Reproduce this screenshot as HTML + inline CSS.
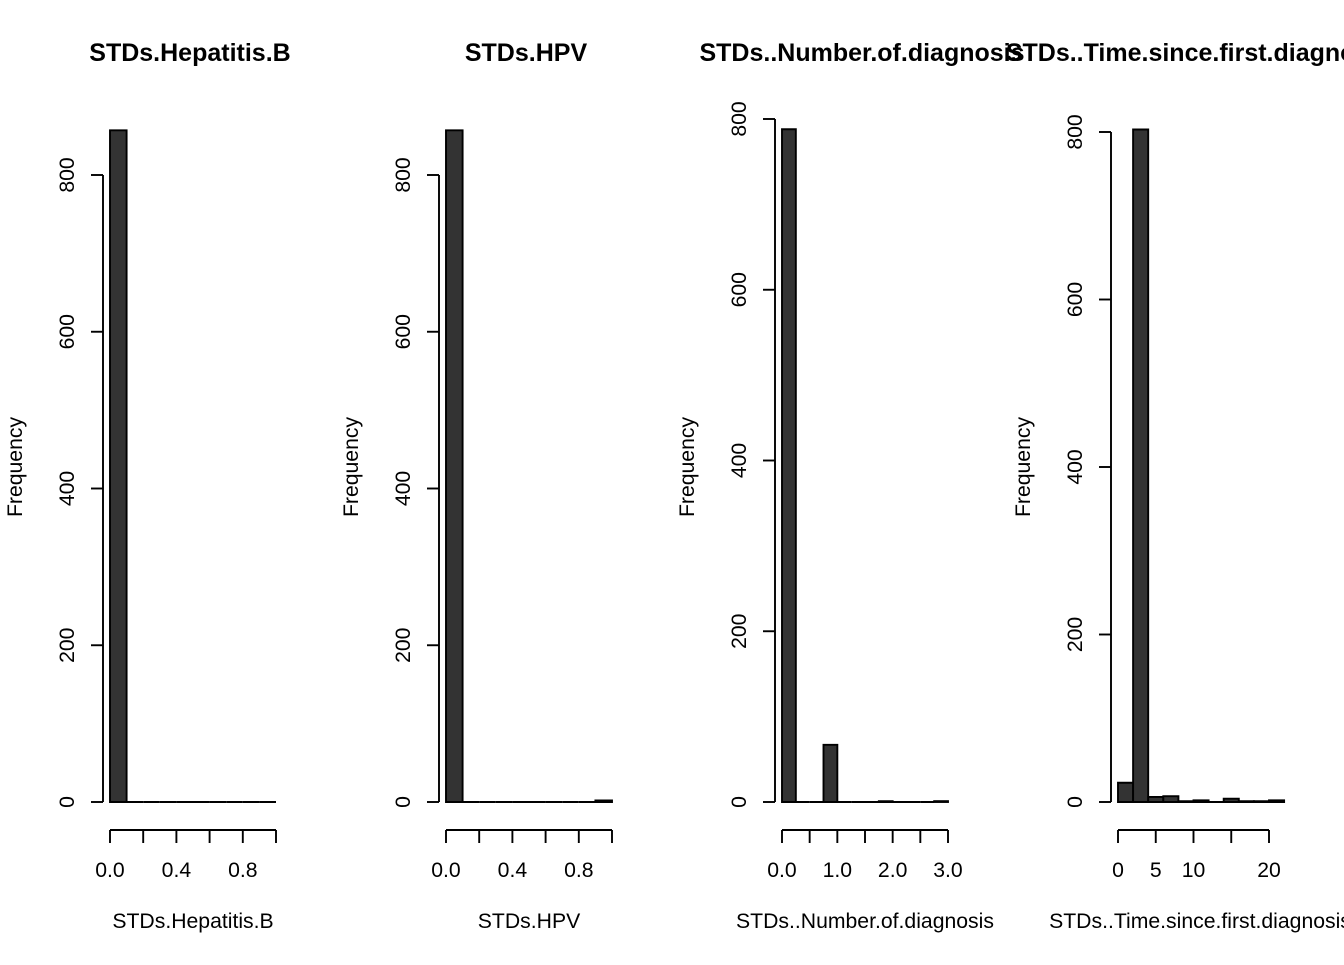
<!DOCTYPE html>
<html><head><meta charset="utf-8"><style>
body{margin:0;background:#fff}
svg text{font-family:"Liberation Sans",Arial,sans-serif;fill:#000}
</style></head><body>
<svg id="c" width="1344" height="960" xmlns="http://www.w3.org/2000/svg"></svg>
<script>
// Panel 1: STDs.Hepatitis.B, bins of 0.1 over [0,1]
const hepBreaks = [0,0.1,0.2,0.3,0.4,0.5,0.6,0.7,0.8,0.9,1.0];
const hepCounts = [857,0,0,0,0,0,0,0,0,0];
const hepXTicks = [0,0.2,0.4,0.6,0.8,1.0];
const hepXLabels = ["0.0","","0.4","","0.8",""];
// Panel 2: STDs.HPV
const hpvBreaks = [0,0.1,0.2,0.3,0.4,0.5,0.6,0.7,0.8,0.9,1.0];
const hpvCounts = [857,0,0,0,0,0,0,0,0,2];
const hpvXTicks = [0,0.2,0.4,0.6,0.8,1.0];
const hpvXLabels = ["0.0","","0.4","","0.8",""];
// Panel 3: STDs..Number.of.diagnosis, bins of 0.25 over [0,3]
const ndBreaks = [0,0.25,0.5,0.75,1,1.25,1.5,1.75,2,2.25,2.5,2.75,3];
const ndCounts = [788,0,0,67,0,0,0,1,0,0,0,1];
const ndXTicks = [0,0.5,1,1.5,2,2.5,3];
const ndXLabels = ["0.0","","1.0","","2.0","","3.0"];
// Panel 4: STDs..Time.since.first.diagnosis, bins of 2 over [0,22]
const tsBreaks = [0,2,4,6,8,10,12,14,16,18,20,22];
const tsCounts = [23,803,6,7,1,2,0,4,1,1,2];
const tsXTicks = [0,5,10,15,20];
const tsXLabels = ["0","5","10","","20"];
const yTicks = [0,200,400,600,800];

const svg = document.getElementById('c');
const NS = 'http://www.w3.org/2000/svg';
function mk(tag, attrs, parent){const e=document.createElementNS(NS,tag);for(const k in attrs)e.setAttribute(k,attrs[k]);(parent||svg).appendChild(e);return e;}

function panel(id, title, xlab, breaks, counts, xTicks, xLabels, cfg){
  const g = mk('g',{});
  
  
  const xs = v => cfg.px0 + (v - cfg.xt0)/(cfg.xt1 - cfg.xt0)*(cfg.px1 - cfg.px0);
  const ys = v => 802 - v/800*(802 - cfg.y800);
  const t = mk('text',{x:cfg.tx,y:61,'font-size':'25','font-weight':'bold','text-anchor':'middle'},g);
  t.textContent = title;
  
  
  const xl = mk('text',{x:cfg.lx,y:928,'font-size':'21.2','text-anchor':'middle'},g);
  xl.textContent = xlab;
  
  
  const yl = mk('text',{x:0,y:0,'font-size':'21.2','text-anchor':'middle',transform:`translate(${cfg.ax-81},467) rotate(-90)`},g);
  yl.textContent = 'Frequency';
  
  
  for(let i=0;i<counts.length;i++){
    const a=xs(breaks[i]), b=xs(breaks[i+1]), top=ys(counts[i]), bot=ys(0);
    const r = mk('path',{d:`M${a},${bot}L${a},${top}L${b},${top}L${b},${bot}Z`,fill:'#333333',stroke:'#000','stroke-width':1.9},g);
    
    
  }
  const ya = mk('g',{},g);
  
  
  mk('line',{x1:cfg.ax,x2:cfg.ax,y1:ys(0),y2:ys(800),stroke:'#000','stroke-width':1.9},ya);
  yTicks.forEach(v=>{
    mk('line',{x1:cfg.ax-12,x2:cfg.ax,y1:ys(v),y2:ys(v),stroke:'#000','stroke-width':1.9},ya);
    const tl = mk('text',{x:0,y:0,'font-size':'21.2','text-anchor':'middle',transform:`translate(${cfg.ax-29},${ys(v)}) rotate(-90)`},ya);
    tl.textContent = String(v);
  });
  const xa = mk('g',{},g);
  
  
  mk('line',{x1:xs(xTicks[0]),x2:xs(xTicks[xTicks.length-1]),y1:830,y2:830,stroke:'#000','stroke-width':1.9},xa);
  xTicks.forEach((v,i)=>{
    mk('line',{x1:xs(v),x2:xs(v),y1:830,y2:843,stroke:'#000','stroke-width':1.9},xa);
    if(xLabels[i]){const tl=mk('text',{x:xs(v),y:877,'font-size':'21.2','text-anchor':'middle'},xa);tl.textContent=xLabels[i];}
  });
}
panel('hepatitis-b','STDs.Hepatitis.B','STDs.Hepatitis.B',hepBreaks,hepCounts,hepXTicks,hepXLabels,{px0:110,px1:276,xt0:0,xt1:1,y800:175,ax:103,tx:190,lx:193});
panel('hpv','STDs.HPV','STDs.HPV',hpvBreaks,hpvCounts,hpvXTicks,hpvXLabels,{px0:446,px1:612,xt0:0,xt1:1,y800:175,ax:439,tx:526,lx:529});
panel('number-of-diagnosis','STDs..Number.of.diagnosis','STDs..Number.of.diagnosis',ndBreaks,ndCounts,ndXTicks,ndXLabels,{px0:782,px1:948,xt0:0,xt1:3,y800:119,ax:775,tx:862,lx:865});
panel('time-since-first-diagnosis','STDs..Time.since.first.diagnosis','STDs..Time.since.first.diagnosis',tsBreaks,tsCounts,tsXTicks,tsXLabels,{px0:1118,px1:1269,xt0:0,xt1:20,y800:132,ax:1111,tx:1198,lx:1200});
</script>
</body></html>
